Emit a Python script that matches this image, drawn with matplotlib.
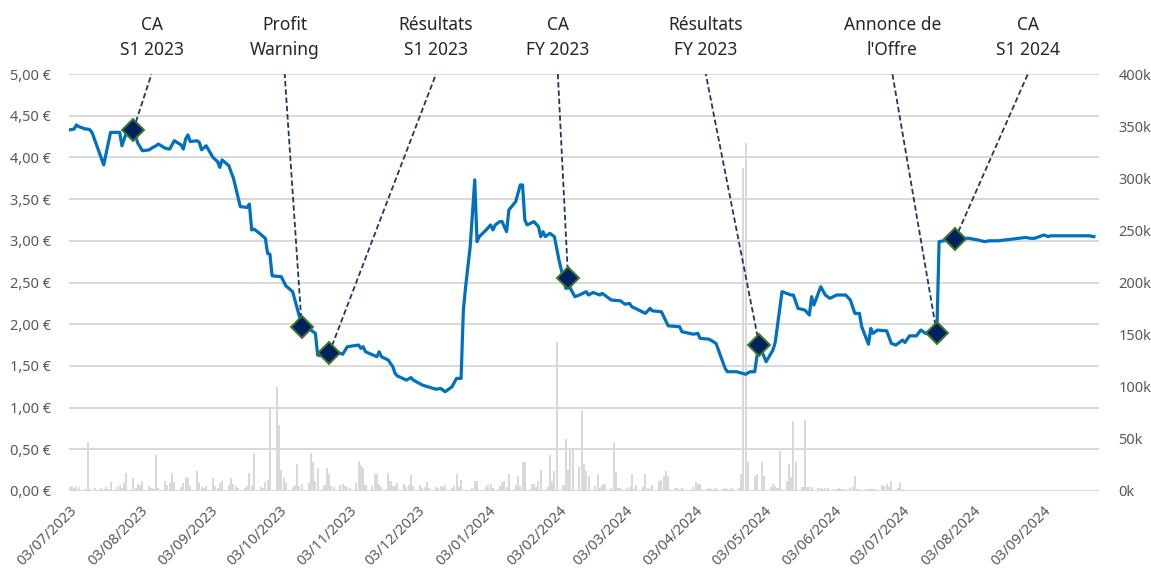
import numpy as np
import pandas as pd
import matplotlib
matplotlib.use('Agg')
import matplotlib.pyplot as plt
import matplotlib.dates as mdates
import matplotlib.transforms as mtrans
from matplotlib.ticker import FuncFormatter

plt.rcParams['font.family'] = ['Noto Sans', 'DejaVu Sans']

# cours de clôture (€)
price_dates = [
    '2023-07-03', '2023-07-05', '2023-07-06', '2023-07-07', '2023-07-10', '2023-07-11',
    '2023-07-12', '2023-07-13', '2023-07-18', '2023-07-21', '2023-07-25', '2023-07-26',
    '2023-07-28', '2023-07-31', '2023-08-02', '2023-08-04', '2023-08-07', '2023-08-08',
    '2023-08-10', '2023-08-11', '2023-08-14', '2023-08-16', '2023-08-18', '2023-08-21',
    '2023-08-22', '2023-08-23', '2023-08-24', '2023-08-25', '2023-08-28', '2023-08-29',
    '2023-08-30', '2023-09-01', '2023-09-04', '2023-09-06', '2023-09-07', '2023-09-08',
    '2023-09-11', '2023-09-12', '2023-09-13', '2023-09-15', '2023-09-16', '2023-09-19',
    '2023-09-20', '2023-09-21', '2023-09-22', '2023-09-24', '2023-09-27', '2023-09-28',
    '2023-09-29', '2023-09-30', '2023-10-04', '2023-10-06', '2023-10-09', '2023-10-11',
    '2023-10-12', '2023-10-13', '2023-10-17', '2023-10-19', '2023-10-20', '2023-10-22',
    '2023-10-25', '2023-10-30', '2023-10-31', '2023-11-02', '2023-11-07', '2023-11-08',
    '2023-11-09', '2023-11-10', '2023-11-15', '2023-11-16', '2023-11-17', '2023-11-20',
    '2023-11-22', '2023-11-23', '2023-11-24', '2023-11-28', '2023-11-30', '2023-12-01',
    '2023-12-05', '2023-12-11', '2023-12-13', '2023-12-15', '2023-12-18', '2023-12-20',
    '2023-12-21', '2023-12-22', '2023-12-23', '2023-12-24', '2023-12-26', '2023-12-28',
    '2023-12-29', '2023-12-30', '2024-01-02', '2024-01-04', '2024-01-05', '2024-01-06',
    '2024-01-08', '2024-01-09', '2024-01-11', '2024-01-12', '2024-01-15', '2024-01-17',
    '2024-01-18', '2024-01-19', '2024-01-20', '2024-01-23', '2024-01-25', '2024-01-26',
    '2024-01-27', '2024-01-28', '2024-01-30', '2024-02-01', '2024-02-03', '2024-02-06',
    '2024-02-07', '2024-02-08', '2024-02-10', '2024-02-12', '2024-02-15', '2024-02-16',
    '2024-02-18', '2024-02-21', '2024-02-22', '2024-02-26', '2024-03-01', '2024-03-03',
    '2024-03-05', '2024-03-06', '2024-03-12', '2024-03-14', '2024-03-15', '2024-03-19',
    '2024-03-22', '2024-03-27', '2024-03-28', '2024-04-02', '2024-04-04', '2024-04-05',
    '2024-04-09', '2024-04-12', '2024-04-16', '2024-04-17', '2024-04-21', '2024-04-25',
    '2024-04-27', '2024-04-29', '2024-04-30', '2024-05-01', '2024-05-04', '2024-05-07',
    '2024-05-08', '2024-05-11', '2024-05-15', '2024-05-16', '2024-05-18', '2024-05-21',
    '2024-05-23', '2024-05-24', '2024-05-25', '2024-05-28', '2024-05-30', '2024-06-01',
    '2024-06-04', '2024-06-08', '2024-06-10', '2024-06-12', '2024-06-14', '2024-06-15',
    '2024-06-18', '2024-06-19', '2024-06-20', '2024-06-22', '2024-06-26', '2024-06-28',
    '2024-06-30', '2024-07-03', '2024-07-04', '2024-07-06', '2024-07-09', '2024-07-11',
    '2024-07-13', '2024-07-16', '2024-07-18', '2024-07-19', '2024-07-21', '2024-07-23',
    '2024-07-26', '2024-07-29', '2024-08-01', '2024-08-05', '2024-08-08', '2024-08-10',
    '2024-08-14', '2024-08-17', '2024-08-20', '2024-08-23', '2024-08-26', '2024-08-28',
    '2024-08-30', '2024-09-03', '2024-09-05', '2024-09-06', '2024-09-09', '2024-09-12',
    '2024-09-18', '2024-09-23', '2024-09-25',
]
price_values = [
    4.33, 4.34, 4.39, 4.37, 4.34, 4.34,
    4.33, 4.29, 3.91, 4.30, 4.30, 4.14,
    4.30, 4.33, 4.17, 4.08, 4.09, 4.11,
    4.14, 4.16, 4.11, 4.10, 4.20, 4.15,
    4.10, 4.22, 4.27, 4.19, 4.20, 4.18,
    4.09, 4.14, 4.00, 3.95, 3.88, 3.97,
    3.90, 3.82, 3.75, 3.52, 3.41, 3.40,
    3.44, 3.13, 3.14, 3.10, 3.03, 2.85,
    2.84, 2.58, 2.57, 2.46, 2.39, 2.19,
    2.09, 1.97, 1.93, 1.89, 1.63, 1.62,
    1.65, 1.65, 1.64, 1.73, 1.75, 1.71,
    1.73, 1.67, 1.61, 1.67, 1.61, 1.57,
    1.49, 1.41, 1.38, 1.33, 1.36, 1.33,
    1.27, 1.22, 1.23, 1.19, 1.25, 1.35,
    1.35, 1.35, 2.17, 2.45, 2.93, 3.73,
    2.99, 3.05, 3.13, 3.19, 3.13, 3.19,
    3.23, 3.23, 3.11, 3.37, 3.47, 3.67,
    3.67, 3.25, 3.19, 3.23, 3.17, 3.05,
    3.11, 3.05, 3.09, 3.05, 2.77, 2.43,
    2.55, 2.43, 2.33, 2.35, 2.39, 2.35,
    2.38, 2.35, 2.37, 2.29, 2.28, 2.24,
    2.25, 2.21, 2.13, 2.19, 2.16, 2.15,
    1.98, 1.97, 1.91, 1.88, 1.89, 1.83,
    1.82, 1.77, 1.47, 1.43, 1.43, 1.40,
    1.43, 1.43, 1.62, 1.75, 1.55, 1.69,
    1.78, 2.39, 2.35, 2.35, 2.19, 2.17,
    2.11, 2.33, 2.23, 2.45, 2.35, 2.31,
    2.35, 2.35, 2.29, 2.13, 2.13, 1.97,
    1.76, 1.95, 1.89, 1.93, 1.92, 1.77,
    1.75, 1.81, 1.78, 1.86, 1.86, 1.93,
    1.89, 1.92, 1.89, 2.99, 3.00, 3.01,
    3.02, 3.03, 3.03, 3.01, 2.99, 3.00,
    3.00, 3.01, 3.02, 3.03, 3.04, 3.03,
    3.03, 3.07, 3.05, 3.06, 3.06, 3.06,
    3.06, 3.06, 3.05,
]

# volumes journaliers (milliers de titres), du lundi 03/07/2023, jours ouvrés
volume_start = '2023-07-03'
volume_k = [
    4, 5, 3, 5, 4,   2, 47, 2, 1, 3,   3, 2, 4, 2, 9,   4, 6, 3, 8, 17,
    12, 3, 7, 6, 10,   5, 3, 2, 35, 3,   10, 6, 8, 17, 9,   4, 8, 13, 12, 5,
    19, 8, 4, 3, 5,   12, 5, 3, 8, 10,   6, 12, 7, 5, 3,   3, 5, 17, 6, 36,
    4, 3, 9, 11, 80,   100, 63, 20, 12, 8,   4, 6, 26, 5, 7,   8, 36, 28, 10, 22,
    6, 22, 16, 5, 4,   6, 7, 5, 4, 3,   8, 29, 25, 22, 6,   5, 16, 16, 7, 4,
    17, 10, 5, 5, 8,   7, 4, 6, 15, 5,   6, 3, 4, 9, 3,   4, 3, 5, 4, 6,
    3, 5, 16, 4, 11,   0, 0, 3, 10, 10,   0, 4, 6, 7, 3,   5, 9, 10, 4, 16,
    6, 14, 5, 28, 28,   7, 7, 4, 10, 20,   4, 35, 10, 19, 143,   6, 50, 20, 41, 41,
    23, 78, 26, 19, 14,   5, 16, 3, 6, 7,   3, 46, 18, 3, 3,   3, 4, 16, 2, 6,
    4, 16, 3, 2, 6,   10, 11, 14, 19, 14,   3, 3, 2, 3, 0,   0, 4, 9, 7, 7,
    2, 3, 2, 2, 3,   2, 3, 2, 2, 3,   3, 16, 310, 334, 28,   14, 16, 0, 28, 14,
    4, 7, 5, 3, 38,   10, 26, 13, 67, 28,   4, 68, 4, 4, 4,   3, 3, 2, 3, 3,
    2, 2, 3, 2, 2,   3, 4, 14, 2, 2,   2, 2, 2, 2, 2,   6, 5, 7, 4, 10,
    3, 9, 2, 1, 1,
]

event_dates = ['2023-07-31', '2023-10-13', '2023-10-25', '2024-02-07',
               '2024-05-01', '2024-07-18', '2024-07-26']
event_labels = ['CA\nS1 2023', 'Profit\nWarning', 'Résultats\nS1 2023', 'CA\nFY 2023',
                'Résultats\nFY 2023', "Annonce de\nl'Offre", 'CA\nS1 2024']
# décalage horizontal de l'étiquette par rapport au point (jours)
label_shift_days = [8, -7.5, 47, -4.5, -23.5, -19.5, 32]

month_ticks = pd.date_range('2023-07-01', '2024-09-01', freq='MS') + pd.Timedelta(days=2)

px = pd.to_datetime(price_dates)
py = np.array(price_values)
vx = pd.bdate_range(volume_start, periods=len(volume_k))
vy = np.array(volume_k) * 1000
ex = pd.to_datetime(event_dates)
ey = [py[list(px).index(d)] for d in ex]

fig = plt.figure(figsize=(11.51, 5.70), dpi=100)
ax = fig.add_axes([69 / 1151, 1 - 491 / 570, 1030 / 1151, 417 / 570])
axv = ax.twinx()
ax.set_zorder(axv.get_zorder() + 1)
ax.patch.set_visible(False)

axv.bar(vx, vy, width=0.9, color='#d9d9d9', linewidth=0)
axv.set_ylim(0, 400000)
axv.set_yticks(np.arange(0, 400001, 50000))
axv.yaxis.set_major_formatter(FuncFormatter(lambda v, p: f'{int(v / 1000)}k'))

ax.plot(px, py, color='#0070C0', lw=2.3, zorder=3, solid_joinstyle='round')
ax.set_ylim(0, 5)
ax.set_yticks(np.arange(0, 5.01, 0.5))
ax.yaxis.set_major_formatter(FuncFormatter(lambda v, p: f'{v:.2f} €'.replace('.', ',')))
ax.yaxis.grid(True, color='#d9d9d9', lw=1.4)
ax.set_axisbelow(True)

ax.set_xlim(pd.Timestamp('2023-07-02 18:00'), pd.Timestamp('2024-09-27 06:00'))
ax.set_xticks(month_ticks)
ax.xaxis.set_major_formatter(mdates.DateFormatter('%d/%m/%Y'))
for lab in ax.get_xticklabels():
    lab.set_rotation(45)
    lab.set_ha('right')
    lab.set_va('top')
    lab.set_rotation_mode('anchor')

for a in (ax, axv):
    for s in a.spines.values():
        s.set_visible(False)
    a.tick_params(length=0, labelsize=10.5, labelcolor='#595959')
ax.tick_params(axis='y', pad=13)
axv.tick_params(axis='y', pad=14)
ax.tick_params(axis='x', pad=9)

trans = mtrans.blended_transform_factory(ax.transData, ax.transAxes)
for d, p, lab, sh in zip(ex, ey, event_labels, label_shift_days):
    top = d + pd.Timedelta(days=sh)
    ax.plot([d, top], [p, 5.0], color='#1f3864', lw=1.3, ls=(0, (3, 1.6)),
            zorder=4, clip_on=False)
    ax.annotate(lab, xy=(mdates.date2num(top), 1.0), xycoords=trans, xytext=(0, 11),
                textcoords='offset points', ha='center', va='bottom',
                fontsize=12.5, color='#262626', linespacing=1.45)

ax.plot(ex, ey, ls='none', marker='D', ms=11, mfc='#002060', mec='#3d7a2a',
        mew=1.4, zorder=5, clip_on=False)

fig.savefig('out.png', dpi=100)
